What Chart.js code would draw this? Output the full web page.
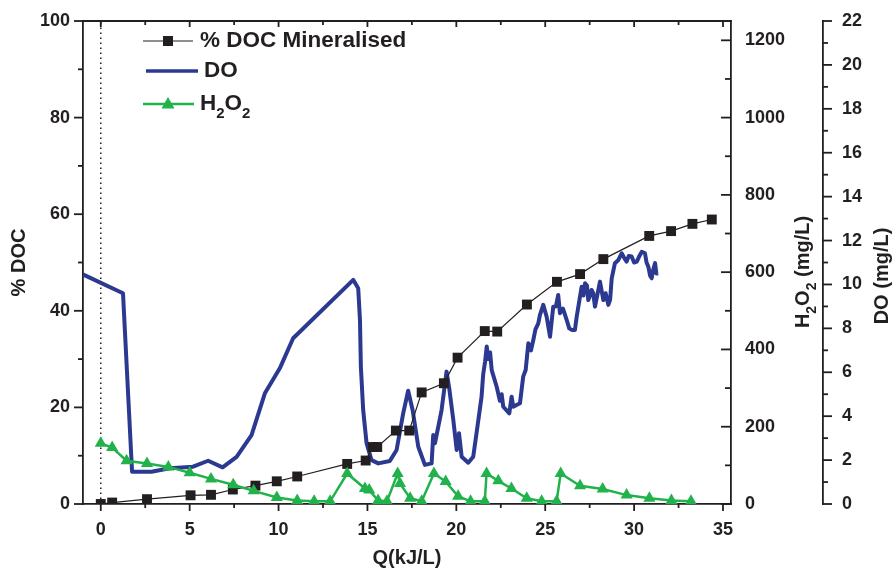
<!DOCTYPE html>
<html>
<head>
<meta charset="utf-8">
<script src="https://cdn.jsdelivr.net/npm/chart.js@4.4.1/dist/chart.umd.min.js"></script>
<style>
  html, body { margin: 0; padding: 0; background: #fff; }
  #wrap { position: relative; width: 894px; height: 570px; }
</style>
</head>
<body>
<div id="wrap"><canvas id="chart"></canvas></div>
<script>
// % DOC mineralised vs Q (kJ/L)
const docQ   = [0, 0.64, 2.6, 5.05, 6.2, 7.43, 8.7, 9.9, 11.05, 13.86, 14.9, 15.3, 15.55, 16.6, 17.35,
                18.05, 19.3, 20.07, 21.6, 22.3, 23.97, 25.66, 26.96, 28.27, 30.85, 32.08, 33.28, 34.37];
const docVal = [0, 0.3, 1.0, 1.8, 1.9, 3.0, 3.8, 4.7, 5.7, 8.3, 9.0, 11.8, 11.8, 15.2, 15.2,
                23.1, 25.0, 30.3, 35.8, 35.7, 41.3, 46.0, 47.6, 50.7, 55.5, 56.5, 58.0, 58.9];

// H2O2 (mg/L)
const h2o2Q   = [0, 0.64, 1.45, 2.6, 3.8, 5.0, 6.2, 7.45, 8.6, 9.9, 11.05, 12.0, 12.9, 13.86, 14.86, 15.1,
                 15.6, 16.1, 16.7, 16.83, 17.4, 18.05, 18.74, 19.4, 20.1, 20.8, 21.6, 21.7, 22.36, 23.1,
                 23.96, 24.8, 25.64, 25.87, 26.96, 28.23, 29.58, 30.86, 32.1, 33.2];
const h2o2Val = [157, 146, 112, 105, 96, 81, 65, 50, 34, 17, 9, 7, 7, 79, 40, 36,
                 9, 7, 79, 53, 15, 7, 79, 58, 20, 7, 7, 79, 60, 40,
                 15, 7, 7, 79, 47, 39, 23, 15, 9, 7];

// DO (mg/L)
const doQ = [-1.01, 1.25, 1.76, 2.85, 3.88, 5.19, 6.04, 6.85, 7.64, 8.48, 9.23, 10.07, 10.82, 11.01,
  14.2, 14.48, 14.58, 14.63, 14.76, 14.95, 15.23, 15.61, 16.26, 16.64, 17.01, 17.29, 17.54, 17.86,
  18.23, 18.61, 18.7, 18.8, 19.17, 19.45, 19.6, 19.83, 20.02, 20.15, 20.3, 20.67, 20.95, 21.2,
  21.42, 21.51, 21.62, 21.71, 21.8, 21.9, 21.99, 22.27, 22.45, 22.55, 22.64, 22.98, 23.11, 23.2,
  23.58, 23.76, 23.9, 24.05, 24.2, 24.33, 24.45, 24.61, 24.7, 24.89, 25.08, 25.27, 25.45, 25.6,
  25.73, 25.83, 26.0, 26.21, 26.35, 26.49, 26.67, 26.77, 27.05, 27.15, 27.24, 27.35, 27.42, 27.5,
  27.61, 27.7, 27.8, 28.08, 28.27, 28.4, 28.55, 28.65, 28.74, 28.92, 29.1, 29.3, 29.45, 29.58,
  29.7, 29.86, 30.0, 30.15, 30.3, 30.43, 30.61, 30.7, 30.8, 30.9, 30.99, 31.05, 31.18, 31.25, 31.36];
const doVal = [10.46, 9.6, 1.47, 1.47, 1.63, 1.7, 1.97, 1.67, 2.15, 3.14, 5.04, 6.18, 7.55, 7.7,
  10.21, 9.83, 8.38, 6.26, 4.28, 2.77, 2.0, 1.85, 1.96, 2.46, 4.13, 5.16, 4.28, 2.61,
  1.78, 1.85, 3.14, 2.77, 4.28, 6.03, 5.27, 3.83, 2.46, 3.22, 2.15, 1.88, 2.15, 3.6,
  4.89, 5.9, 6.5, 7.17, 6.6, 6.9, 6.1, 5.34, 4.7, 5.0, 4.43, 4.13, 4.89, 4.43,
  4.59, 5.8, 6.1, 7.32, 7.0, 7.47, 7.95, 8.23, 8.6, 9.07, 8.53, 7.62, 8.99, 9.0,
  9.52, 8.69, 8.9, 8.38, 8.0, 7.93, 7.93, 8.53, 9.9, 9.5, 10.05, 9.95, 9.29, 9.45,
  9.75, 9.6, 8.99, 10.13, 9.29, 9.6, 9.07, 9.3, 10.28, 10.97, 11.1, 11.42, 11.2, 11.04,
  11.3, 11.27, 11.0, 11.04, 11.3, 11.49, 11.42, 11.0, 10.81, 10.4, 10.28, 10.6, 10.97, 10.5, 10.51];

// dotted marker at Q = 0
const markQ = [0, 0];
const markVal = [0, 100];

// tick labels
const qTicks = [0, 5, 10, 15, 20, 25, 30, 35];
const docTicks = [0, 20, 40, 60, 80, 100];
const h2o2Ticks = [0, 200, 400, 600, 800, 1000, 1200];
const doTicks = [0, 2, 4, 6, 8, 10, 12, 14, 16, 18, 20, 22];

const FONT = "'Liberation Sans', Arial, sans-serif";
const INK = '#231f20';
const BLUE = '#2b3990';
const GREEN = '#22b24c';

function pts(xs, ys) {
    return xs.map((x, i) => ({ x: x, y: ys[i] }));
}

function mids(t) {
    const m = [];
    for (let i = 0; i + 1 < t.length; i++) m.push((t[i] + t[i + 1]) / 2);
    return m;
}

function seg(ctx, x1, y1, x2, y2) {
    ctx.beginPath();
    ctx.moveTo(x1, y1);
    ctx.lineTo(x2, y2);
    ctx.stroke();
}

// text with subscripts, parts = [[text, isSub], ...]
function chemWidth(ctx, parts, size) {
    let w = 0;
    parts.forEach(([t, sub]) => {
        ctx.font = 'bold ' + (sub ? Math.round(size * 0.68) : size) + 'px ' + FONT;
        w += ctx.measureText(t).width;
    });
    return w;
}

function drawChem(ctx, parts, x, y, size) {
    let cx = x;
    ctx.textBaseline = 'middle';
    ctx.textAlign = 'left';
    parts.forEach(([t, sub]) => {
        ctx.font = 'bold ' + (sub ? Math.round(size * 0.68) : size) + 'px ' + FONT;
        ctx.fillText(t, cx, sub ? y + size * 0.46 : y);
        cx += ctx.measureText(t).width;
    });
}

function drawRotated(ctx, parts, cx, cy, size) {
    const w = chemWidth(ctx, parts, size);
    ctx.save();
    ctx.translate(cx, cy);
    ctx.rotate(-Math.PI / 2);
    drawChem(ctx, parts, -w / 2, 0, size);
    ctx.restore();
}

function tickFont(size) {
    return { family: FONT, size: size, weight: 'bold' };
}

const plain = v => String(v);

// fixed axis sizes; drop the label overhang so the plot area keeps its place
function fixWidth(w) {
    return s => { s.width = w; s.paddingTop = 0; s.paddingBottom = 0; };
}

// tick marks, top frame, legend and right-hand titles
const frame = {
    id: 'frame',
    afterDraw(chart) {
        const ctx = chart.ctx;
        const a = chart.chartArea;
        const sx = chart.scales.x, sy = chart.scales.y, s1 = chart.scales.y1, s2 = chart.scales.y2;
        ctx.save();
        ctx.strokeStyle = INK;
        ctx.fillStyle = INK;
        ctx.lineWidth = 1.8;

        seg(ctx, a.left - 0.9, a.top, a.right + 0.9, a.top);

        qTicks.forEach(v => {
            const px = sx.getPixelForValue(v);
            seg(ctx, px, a.bottom, px, a.bottom + 7);
            seg(ctx, px, a.top, px, a.top + 6);
        });
        mids(qTicks).forEach(v => {
            const px = sx.getPixelForValue(v);
            seg(ctx, px, a.bottom, px, a.bottom + 4);
            seg(ctx, px, a.top, px, a.top + 4);
        });

        docTicks.forEach(v => {
            const py = sy.getPixelForValue(v);
            seg(ctx, a.left, py, a.left - 9, py);
        });
        mids(docTicks).forEach(v => {
            const py = sy.getPixelForValue(v);
            seg(ctx, a.left, py, a.left - 5, py);
        });

        h2o2Ticks.forEach(v => {
            const py = s1.getPixelForValue(v);
            seg(ctx, a.right, py, a.right - 10, py);
        });
        mids(h2o2Ticks).forEach(v => {
            const py = s1.getPixelForValue(v);
            seg(ctx, a.right, py, a.right - 6, py);
        });

        const dx = s2.left;
        doTicks.forEach(v => {
            const py = s2.getPixelForValue(v);
            seg(ctx, dx, py, dx + 9, py);
        });
        mids(doTicks).forEach(v => {
            const py = s2.getPixelForValue(v);
            seg(ctx, dx, py, dx + 5, py);
        });

        // right-hand axis titles
        drawRotated(ctx, [['H', false], ['2', true], ['O', false], ['2', true], [' (mg/L)', false]], 803, 272, 20);
        drawRotated(ctx, [['DO (mg/L)', false]], 882, 276, 20);

        // legend
        ctx.lineWidth = 1.2;
        seg(ctx, 143, 41, 193, 41);
        ctx.fillRect(163, 36, 10, 10);
        drawChem(ctx, [['% DOC Mineralised', false]], 200, 41, 22.5);

        ctx.strokeStyle = BLUE;
        ctx.lineWidth = 3.5;
        seg(ctx, 146, 71, 198, 71);
        drawChem(ctx, [['DO', false]], 204, 71, 22.5);

        ctx.strokeStyle = GREEN;
        ctx.fillStyle = GREEN;
        ctx.lineWidth = 2.5;
        seg(ctx, 143, 104, 194, 104);
        ctx.beginPath();
        ctx.moveTo(168, 97);
        ctx.lineTo(174.5, 108.5);
        ctx.lineTo(161.5, 108.5);
        ctx.closePath();
        ctx.fill();
        ctx.fillStyle = INK;
        drawChem(ctx, [['H', false], ['2', true], ['O', false], ['2', true]], 200, 104, 22.5);

        ctx.restore();
    }
};

new Chart(document.getElementById('chart'), {
    type: 'line',
    data: {
        datasets: [{
            label: 'H2O2',
            data: pts(h2o2Q, h2o2Val),
            yAxisID: 'y1',
            borderColor: GREEN,
            backgroundColor: GREEN,
            borderWidth: 2.5,
            pointStyle: 'triangle',
            pointRadius: 7,
            pointBorderWidth: 0,
            order: 0
        }, {
            label: '% DOC Mineralised',
            data: pts(docQ, docVal),
            yAxisID: 'y',
            borderColor: INK,
            backgroundColor: INK,
            borderWidth: 1.2,
            pointStyle: 'rect',
            pointRadius: 7,
            pointBorderWidth: 0,
            order: 1
        }, {
            label: 'DO',
            data: pts(doQ, doVal),
            yAxisID: 'y2',
            borderColor: BLUE,
            borderWidth: 4,
            borderJoinStyle: 'round',
            pointRadius: 0,
            order: 2
        }, {
            label: 'start',
            data: pts(markQ, markVal),
            yAxisID: 'y',
            borderColor: INK,
            borderWidth: 1.5,
            borderDash: [1.5, 3.5],
            pointRadius: 0,
            order: 3
        }]
    },
    options: {
        responsive: true,
        maintainAspectRatio: false,
        animation: false,
        layout: { padding: { top: 21, left: 0, right: 0, bottom: 0 } },
        elements: { line: { tension: 0 } },
        plugins: {
            legend: { display: false },
            tooltip: { enabled: false }
        },
        scales: {
            x: {
                type: 'linear',
                min: -1,
                max: 35.45,
                afterBuildTicks: s => { s.ticks = qTicks.map(v => ({ value: v })); },
                afterFit: s => { s.height = 66; },
                grid: { display: false, drawTicks: false },
                border: { color: INK, width: 1.8 },
                ticks: { padding: 15, color: INK, font: tickFont(18), autoSkip: false, maxRotation: 0, callback: plain },
                title: { display: true, text: 'Q(kJ/L)', color: INK, font: tickFont(20), padding: { top: 0, bottom: 0 } }
            },
            y: {
                position: 'left',
                min: 0,
                max: 100,
                afterBuildTicks: s => { s.ticks = docTicks.map(v => ({ value: v })); },
                afterFit: fixWidth(83),
                grid: { display: false, drawTicks: false },
                border: { color: INK, width: 1.8 },
                ticks: { padding: 13, color: INK, font: tickFont(18), callback: plain },
                title: { display: true, text: '% DOC', color: INK, font: tickFont(20), padding: { top: 7, bottom: 0 } }
            },
            y1: {
                position: 'right',
                weight: 0,
                min: 0,
                max: 1250,
                afterBuildTicks: s => { s.ticks = h2o2Ticks.map(v => ({ value: v })); },
                afterFit: fixWidth(92),
                grid: { display: false, drawTicks: false },
                border: { color: INK, width: 1.8 },
                ticks: { padding: 14, color: INK, font: tickFont(18), callback: plain }
            },
            y2: {
                position: 'right',
                weight: 1,
                min: 0,
                max: 22,
                afterBuildTicks: s => { s.ticks = doTicks.map(v => ({ value: v })); },
                afterFit: fixWidth(71),
                grid: { display: false, drawTicks: false },
                border: { color: INK, width: 1.8 },
                ticks: { padding: 19, color: INK, font: tickFont(18), callback: plain }
            }
        }
    },
    plugins: [frame]
});
</script>
</body>
</html>
